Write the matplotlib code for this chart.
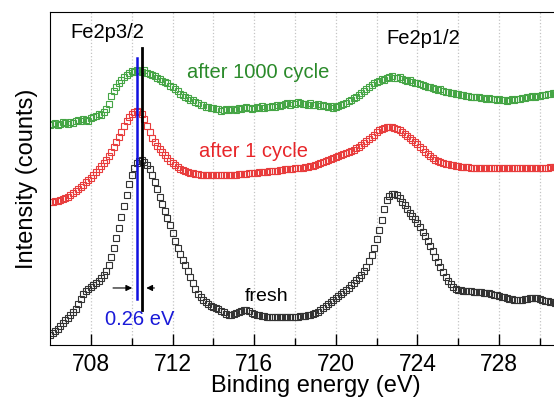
import numpy as np
import matplotlib
matplotlib.use('Agg')
import matplotlib.pyplot as plt

plt.rcParams['font.family'] = ['Liberation Sans', 'DejaVu Sans']

# binding energy grid (eV), 0.125 eV steps; one row = 1 eV
energy = np.arange(706.0, 731.001, 0.125)

fresh = [10, 12, 14, 16, 19, 22, 25, 27,
         30, 33, 36, 41, 46, 51, 54, 56,
         58, 60, 62, 64, 67, 70, 74, 80,
         88, 97, 107, 117, 128, 139, 150, 161,
         170, 177, 182, 184, 185, 183, 180, 176,
         170, 163, 156, 148, 141, 134, 127, 120,
         112, 104, 97, 91, 85, 80, 74, 68,
         62, 56, 51, 48, 45, 43, 41, 39,
         38, 37, 36, 34, 33, 31, 30, 30,
         31, 32, 33, 34, 35, 35, 34, 32,
         31, 30, 30, 29, 29, 28, 28, 28,
         28, 28, 28, 28, 28, 28, 28, 28,
         28, 28, 29, 29, 29, 30, 30, 31,
         32, 33, 35, 37, 39, 41, 43, 45,
         47, 49, 51, 53, 55, 57, 60, 62,
         65, 67, 70, 74, 78, 84, 90, 97,
         106, 115, 125, 136, 145, 149, 151, 151,
         150, 147, 143, 140, 136, 132, 129, 126,
         122, 118, 113, 109, 104, 99, 94, 88,
         83, 78, 73, 68, 64, 61, 58, 56,
         55, 55, 54, 54, 54, 54, 53, 53,
         53, 53, 52, 52, 52, 51, 50, 50,
         49, 48, 48, 47, 46, 46, 45, 45,
         45, 45, 46, 46, 47, 47, 47, 47,
         46, 45, 44, 44, 43, 43, 42, 42,
         42]

cycle1 = [143, 143, 144, 144, 145, 146, 147, 148,
          150, 152, 154, 156, 158, 160, 163, 165,
          167, 170, 173, 176, 179, 182, 185, 189,
          193, 198, 203, 208, 213, 219, 224, 228,
          231, 233, 234, 233, 231, 226, 219, 213,
          207, 203, 199, 196, 193, 190, 187, 184,
          182, 180, 178, 176, 175, 174, 173, 172,
          172, 171, 171, 170, 170, 170, 170, 170,
          170, 170, 170, 170, 170, 170, 170, 170,
          170, 170, 171, 171, 171, 171, 172, 172,
          172, 172, 173, 173, 173, 173, 174, 174,
          174, 174, 175, 175, 176, 176, 176, 176,
          177, 177, 177, 177, 178, 178, 179, 179,
          180, 181, 182, 183, 184, 185, 186, 187,
          188, 189, 190, 191, 192, 193, 194, 195,
          197, 198, 200, 202, 204, 206, 208, 210,
          213, 215, 216, 217, 218, 218, 218, 217,
          216, 215, 213, 211, 209, 207, 205, 203,
          201, 198, 196, 193, 191, 189, 187, 185,
          184, 183, 182, 181, 181, 180, 180, 179,
          179, 178, 178, 178, 178, 177, 177, 177,
          177, 177, 177, 177, 177, 177, 177, 177,
          177, 177, 177, 177, 177, 177, 177, 177,
          177, 177, 177, 177, 177, 177, 177, 177,
          177, 177, 177, 177, 178, 178, 178, 178,
          178]

cycle1000 = [220, 221, 222, 220, 221, 223, 222, 221,
             223, 222, 224, 225, 224, 226, 225, 224,
             227, 228, 229, 231, 230, 233, 236, 241,
             249, 254, 258, 262, 265, 268, 270, 272,
             274, 273, 275, 274, 273, 275, 272, 271,
             270, 269, 267, 266, 264, 263, 262, 259,
             258, 256, 254, 251, 250, 248, 247, 245,
             245, 243, 242, 240, 240, 238, 238, 237,
             237, 236, 236, 234, 235, 236, 235, 236,
             236, 235, 237, 236, 237, 238, 237, 236,
             237, 238, 237, 239, 237, 238, 238, 239,
             238, 240, 239, 240, 241, 242, 240, 242,
             241, 243, 242, 241, 241, 240, 242, 240,
             240, 241, 239, 240, 239, 238, 239, 237,
             238, 239, 240, 241, 242, 244, 245, 247,
             248, 250, 252, 254, 256, 258, 260, 262,
             263, 264, 266, 265, 267, 268, 269, 267,
             267, 268, 266, 265, 264, 265, 263, 262,
             262, 261, 260, 259, 258, 258, 257, 256,
             255, 256, 254, 253, 253, 252, 252, 251,
             251, 250, 250, 249, 249, 248, 248, 248,
             248, 247, 247, 246, 247, 246, 246, 245,
             246, 245, 245, 244, 245, 246, 245, 246,
             246, 247, 247, 248, 248, 249, 248, 249,
             249, 250, 250, 251, 251, 252, 252, 251,
             252]

peak_fresh = 710.50
peak_cycled = 710.24

fig = plt.figure(figsize=(5.54, 3.98), dpi=100)
ax = fig.add_axes([0.0903, 0.1332, 0.958, 0.8367])

mk = dict(marker='s', linestyle='none', markersize=3.7, markerfacecolor='none',
          markeredgewidth=0.8)
ax.plot(energy, fresh, markeredgecolor='#333333', **mk)
ax.plot(energy, cycle1, markeredgecolor='#e83c3c', **mk)
ax.plot(energy, cycle1000, markeredgecolor='#45a545', **mk)

# peak position markers
ax.plot([peak_fresh, peak_fresh], [35, 297], color='black', lw=2)
ax.plot([peak_cycled, peak_cycled], [46, 287], color='#1010e0', lw=1.8)
ax.annotate('', xy=(peak_cycled - 0.08, 57), xytext=(708.95, 57),
            arrowprops=dict(arrowstyle='-|>', color='black', lw=0.8, mutation_scale=9))
ax.annotate('', xy=(peak_fresh + 0.08, 57), xytext=(711.25, 57),
            arrowprops=dict(arrowstyle='-|>', color='black', lw=0.8, mutation_scale=9))

ax.text(710.4, 25, '0.26 eV', color='#1a1ad8', fontsize=14.5, ha='center', va='center')
ax.text(708.8, 312, 'Fe2p3/2', color='black', fontsize=14.5, ha='center', va='center')
ax.text(724.3, 306, 'Fe2p1/2', color='black', fontsize=14.5, ha='center', va='center')
ax.text(716.2, 272, 'after 1000 cycle', color='#2a8a2a', fontsize=14.5, ha='center', va='center')
ax.text(715.95, 193, 'after 1 cycle', color='#e8262a', fontsize=14.5, ha='center', va='center')
ax.text(716.6, 48, 'fresh', color='black', fontsize=14, ha='center', va='center')

ax.set_xlim(706, 732)
ax.set_ylim(0, 333)
ax.set_xticks(np.arange(708, 731, 4))
ax.set_xticks(np.arange(710, 732, 4), minor=True)
ax.set_yticks([])
ax.tick_params(axis='x', which='major', direction='in', length=8, width=1, labelsize=16.5, pad=6)
ax.tick_params(axis='x', which='minor', direction='in', length=5, width=1)
ax.grid(True, which='both', axis='x', color='#c4c4c4', linestyle=':', linewidth=0.9)
ax.set_xlabel('Binding energy (eV)', fontsize=17, labelpad=-1)
ax.set_ylabel('Intensity (counts)', fontsize=17, labelpad=9)

plt.savefig('out.png', dpi=100)
